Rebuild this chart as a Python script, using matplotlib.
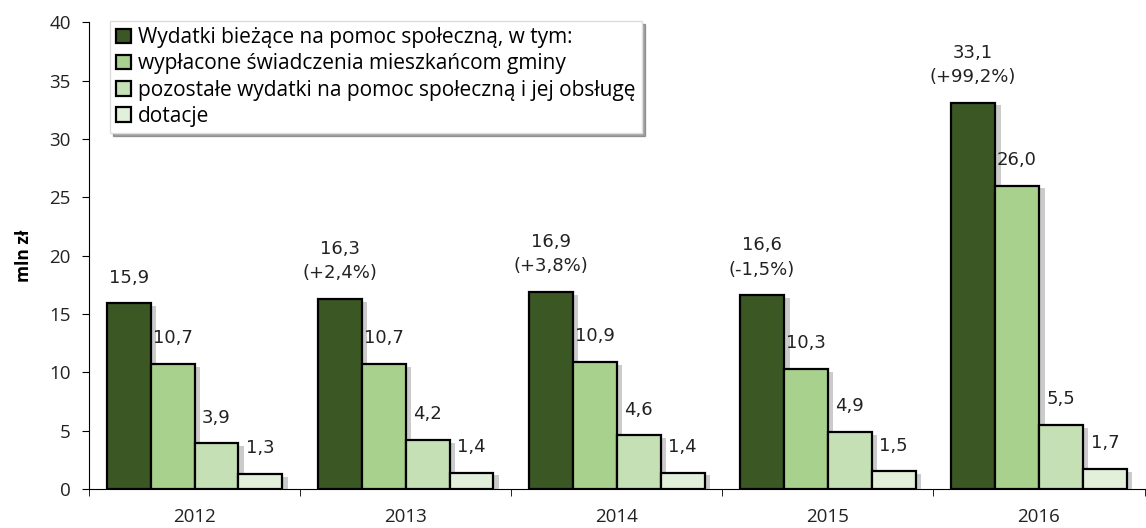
import numpy as np
import matplotlib.pyplot as plt
import matplotlib.patheffects as pe

years = ["2012", "2013", "2014", "2015", "2016"]
wydatki = [15.9, 16.3, 16.9, 16.6, 33.1]
zmiana = ["", "(+2,4%)", "(+3,8%)", "(-1,5%)", "(+99,2%)"]
swiadczenia = [10.7, 10.7, 10.9, 10.3, 26.0]
pozostale = [3.9, 4.2, 4.6, 4.9, 5.5]
dotacje = [1.3, 1.4, 1.4, 1.5, 1.7]

names = ["Wydatki bieżące na pomoc społeczną, w tym:",
         "wypłacone świadczenia mieszkańcom gminy",
         "pozostałe wydatki na pomoc społeczną i jej obsługę",
         "dotacje"]
colors = ["#3a5724", "#a9d18e", "#c5e0b4", "#e2efda"]

fig = plt.figure(figsize=(11.46, 5.28), dpi=100)
ax = fig.add_axes([0.0777, 0.074, 0.921, 0.884])

x = np.arange(len(years))
w = 0.208
shadow = [pe.SimplePatchShadow(offset=(4, -2), alpha=0.3, shadow_rgbFace="#555555"), pe.Normal()]
series = [wydatki, swiadczenia, pozostale, dotacje]
for i, vals in enumerate(series):
    bars = ax.bar(x + (i - 1.5) * w, vals, w, color=colors[i], edgecolor="black",
                  linewidth=1.6, label=names[i], zorder=3)
    for b in bars:
        b.set_path_effects(shadow)
    for j, v in enumerate(vals):
        txt = f"{v:.1f}".replace(".", ",")
        if i == 0 and zmiana[j]:
            txt = txt + "\n" + zmiana[j]
        ax.annotate(txt, (x[j] + (i - 1.5) * w, v), xytext=(0, 12), textcoords="offset points",
                    ha="center", va="bottom", fontsize=13, linespacing=1.45,
                    family="DejaVu Sans", color="#222222")

ax.set_xlim(-0.5, 4.5)
ax.set_ylim(0, 40)
ax.set_yticks(np.arange(0, 41, 5))
ax.set_xticks(x)
ax.set_xticklabels(years)
ax.set_xticks(np.arange(-0.5, 4.6, 1), minor=True)
ax.tick_params(axis="x", which="major", length=0, pad=14, labelsize=13.5)
ax.tick_params(axis="x", which="minor", length=5, direction="out")
ax.tick_params(axis="y", length=5, direction="out", labelsize=13.5, pad=8)
for lab in ax.get_xticklabels() + ax.get_yticklabels():
    lab.set_family("Open Sans")
    lab.set_color("#222222")
ax.spines["top"].set_visible(False)
ax.spines["right"].set_visible(False)
ax.set_ylabel("mln zł", fontsize=12.5, fontweight="bold", family="Open Sans", labelpad=12)

leg = ax.legend(loc="upper left", bbox_to_anchor=(0.01, 1.025), frameon=True, fancybox=False,
                shadow=True, handlelength=0.7, handleheight=0.7,
                handletextpad=0.35, labelspacing=0.25, borderpad=0.3,
                prop={"family": "Open Sans", "size": 15})
leg.get_frame().set_edgecolor("#dddddd")
for h in leg.legend_handles:
    h.set_path_effects([])
    h.set_linewidth(1.6)

fig.savefig("out.png", dpi=100)
